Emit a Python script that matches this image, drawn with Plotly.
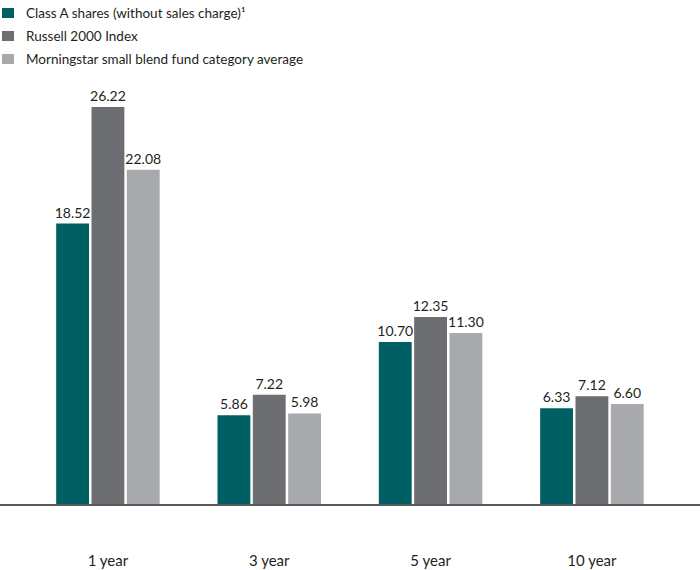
import plotly.graph_objects as go

categories = ["1 year", "3 year", "5 year", "10 year"]
class_a = [18.52, 5.86, 10.70, 6.33]
russell = [26.22, 7.22, 12.35, 7.12]
morningstar = [22.08, 5.98, 11.30, 6.60]

series_names = [
    "Class A shares (without sales charge)¹",
    "Russell 2000 Index",
    "Morningstar small blend fund category average",
]
colors = ["#005F63", "#6D6E71", "#A7A9AC"]
series = [class_a, russell, morningstar]

W, H = 700, 570
MT, MB = 0, 66
PLOT_H = H - MT - MB
PX_PER_UNIT = 15.14

FONT = "Lato, Liberation Sans, sans-serif"
TEXT_COLOR = "#231F20"

fig = go.Figure()
for name, vals, col in zip(series_names, series, colors):
    fig.add_trace(go.Bar(
        x=categories, y=vals, name=name,
        marker=dict(color=col, line=dict(width=0)),
        text=[f"{v:.2f}" for v in vals],
        textposition="outside",
        constraintext="none",
        textfont=dict(color=TEXT_COLOR, size=14, family=FONT),
        cliponaxis=False,
        showlegend=False,
        hoverinfo="skip",
    ))

# manual legend (top-left)
legend_rows_px = [13, 36, 59]
shapes = []
annotations = []
for name, col, py in zip(series_names, colors, legend_rows_px):
    y0 = 1 - (py + 5) / PLOT_H
    y1 = 1 - (py - 5) / PLOT_H
    shapes.append(dict(type="rect", xref="paper", yref="paper",
                       x0=2 / W, x1=14 / W, y0=y0, y1=y1,
                       fillcolor=col, line=dict(width=0)))
    annotations.append(dict(text=name, xref="paper", yref="paper",
                            x=24 / W, y=1 - py / PLOT_H,
                            xanchor="left", yanchor="middle", showarrow=False,
                            font=dict(size=13.5, color=TEXT_COLOR, family=FONT)))

fig.update_layout(
    width=W, height=H,
    margin=dict(l=0, r=0, t=MT, b=MB, pad=0),
    paper_bgcolor="white", plot_bgcolor="white",
    barmode="group", bargap=0.343, bargroupgap=0.07,
    font=dict(family=FONT, color=TEXT_COLOR),
    showlegend=False,
    shapes=shapes, annotations=annotations,
)
fig.update_xaxes(
    range=[-0.669, 3.670],
    showline=True, linecolor="#58595B", linewidth=1.5,
    showgrid=False, zeroline=False, ticks="",
    ticklabelstandoff=42,
    tickfont=dict(size=15, color=TEXT_COLOR, family=FONT),
    fixedrange=True, automargin=False,
)
fig.update_yaxes(
    range=[0, PLOT_H / PX_PER_UNIT],
    visible=False, showgrid=False, zeroline=False,
    fixedrange=True,
)

fig.write_html("out.html", config={"displayModeBar": False},
               post_script="document.body.style.margin='0';")
